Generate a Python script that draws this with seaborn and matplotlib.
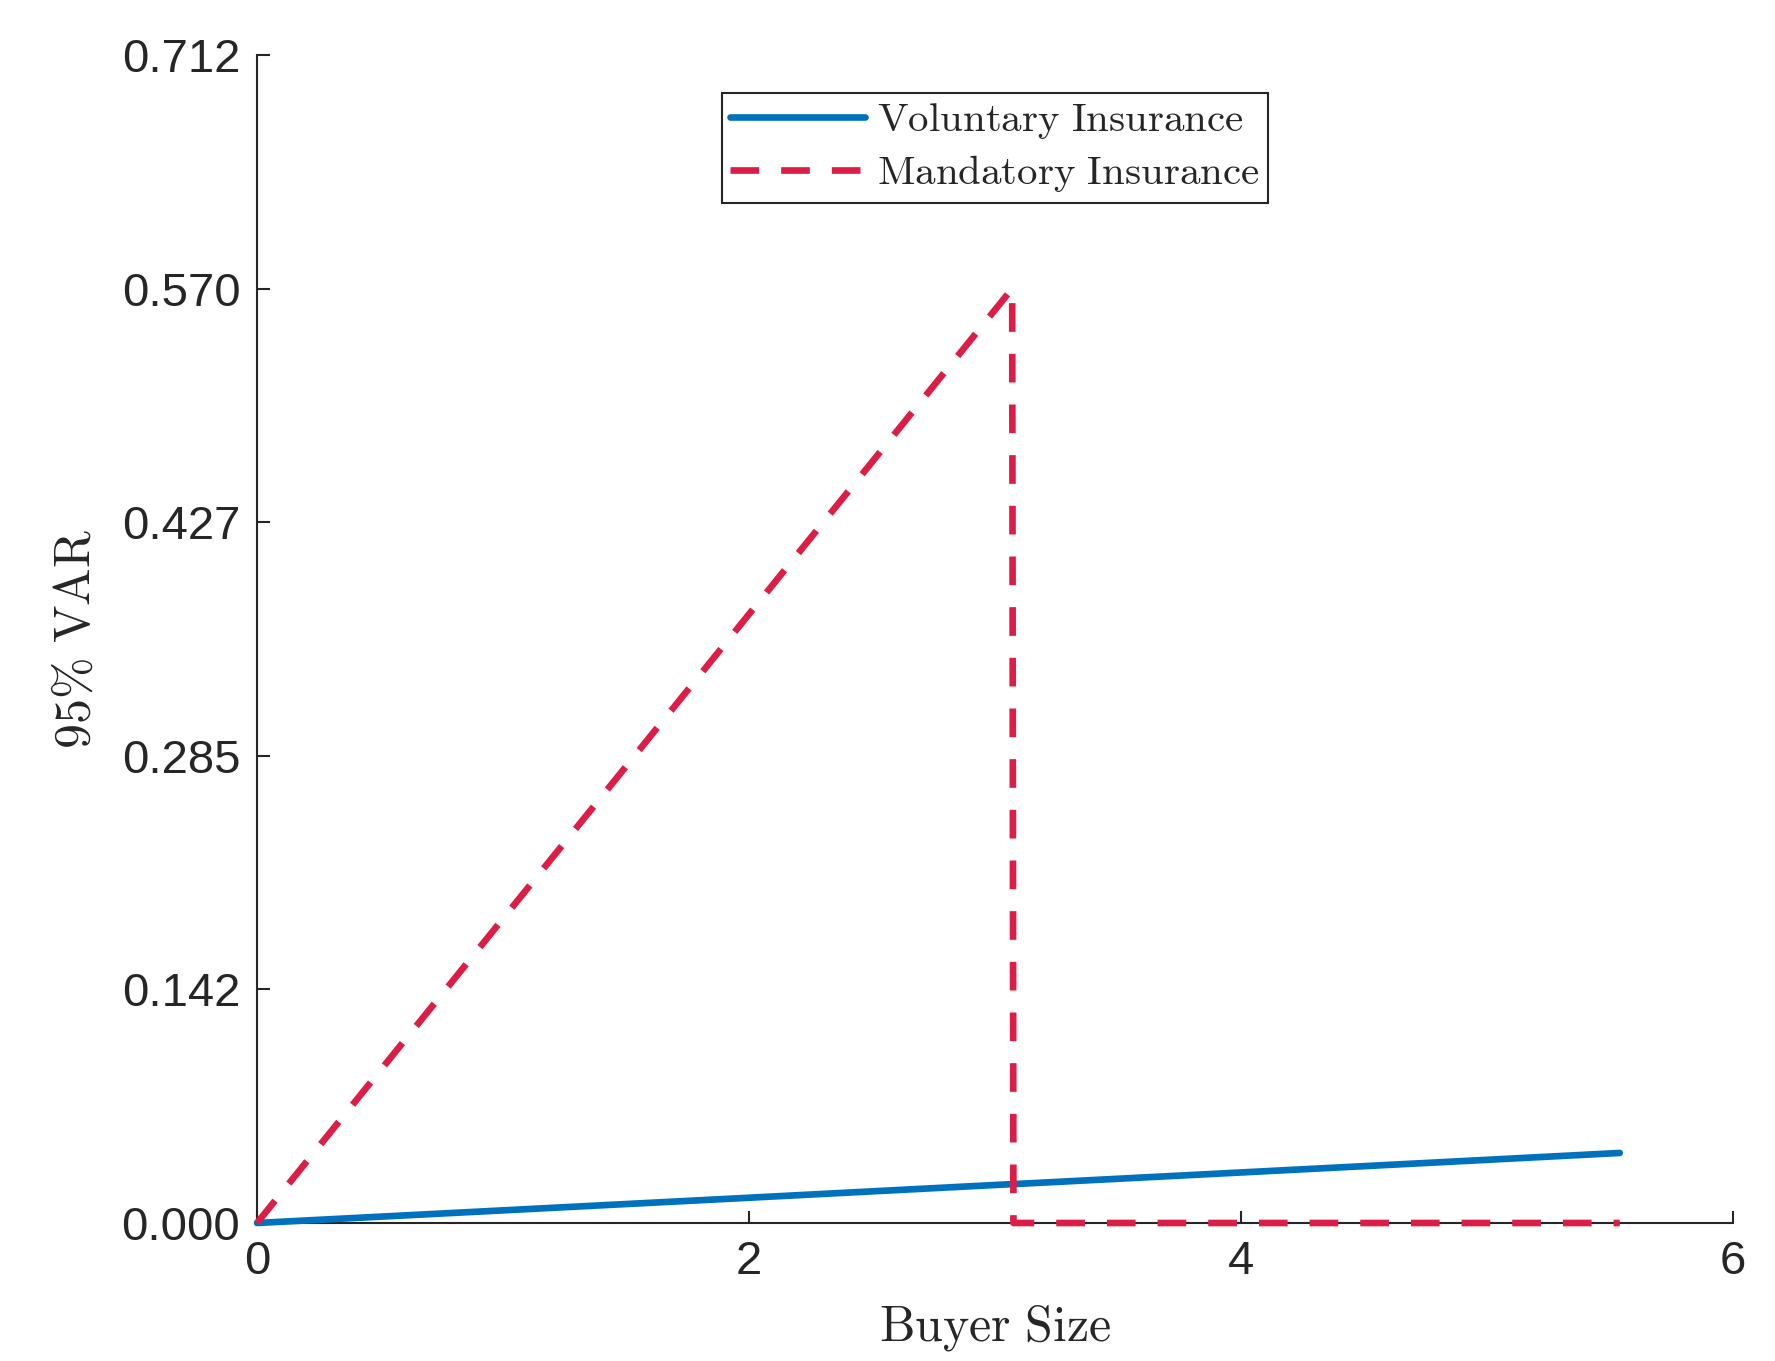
import numpy as np
import pandas as pd
import matplotlib
matplotlib.use("Agg")
import matplotlib.pyplot as plt
import seaborn as sns
from matplotlib.lines import Line2D

# ---- data ----
buyer_size = [0.0, 1.0, 2.0, 3.07, 3.075, 4.0, 5.0, 5.54]
voluntary = [0.0, 0.0077, 0.0154, 0.0237, 0.0237, 0.0308, 0.0385, 0.0427]
mandatory = [0.0, 0.1855, 0.3711, 0.5696, 0.0, 0.0, 0.0, 0.0]
series_names = ["Voluntary Insurance", "Mandatory Insurance"]
xticks = [0, 2, 4, 6]
ytick_labels = ["0.000", "0.142", "0.285", "0.427", "0.570", "0.712"]
y_max = 0.712

df = pd.concat([
    pd.DataFrame({"x": buyer_size, "y": voluntary, "series": series_names[0]}),
    pd.DataFrame({"x": buyer_size, "y": mandatory, "series": series_names[1]}),
], ignore_index=True)

sns.set_theme(style="ticks")
plt.rcParams["font.family"] = ["Liberation Sans", "DejaVu Sans"]
plt.rcParams["mathtext.fontset"] = "cm"

fig = plt.figure(figsize=(17.75, 13.61), dpi=100)
ax = fig.add_axes([0.1448, 0.1014, 0.9763 - 0.1448, 0.9596 - 0.1014])

lw = 4.8
dash = (4.3, 3.3)
sns.lineplot(data=df, x="x", y="y", hue="series", style="series",
             palette={series_names[0]: "#0072BD", series_names[1]: "#DC1E46"},
             dashes={series_names[0]: "", series_names[1]: dash},
             linewidth=lw, sort=False, estimator=None, ax=ax, legend=False)
for ln in ax.lines:
    ln.set_clip_on(False)
    ln.set_zorder(3)

ax.set_xlim(0, 6)
ax.set_ylim(0, y_max)
ax.set_xticks(xticks)
ax.set_xticklabels([str(t) for t in xticks])
yt = np.linspace(0, y_max, len(ytick_labels))
ax.set_yticks(yt)
ax.set_yticklabels(ytick_labels)

for s in ["top", "right"]:
    ax.spines[s].set_visible(False)
for s in ["left", "bottom"]:
    ax.spines[s].set_color("#262626")
    ax.spines[s].set_linewidth(1.5)
    ax.spines[s].set_zorder(2)
ax.tick_params(direction="in", length=9, width=1.5, color="#262626",
               labelsize=34, labelcolor="#262626", pad=12)

ax.set_xlabel(r"$\mathrm{Buyer\ Size}$", fontsize=36, color="#262626", labelpad=14)
ax.set_ylabel(r"$\mathrm{95\%\ VAR}$", fontsize=36, color="#262626", labelpad=16)

handles = [
    Line2D([], [], color="#0072BD", lw=lw),
    Line2D([], [], color="#DC1E46", lw=lw, dashes=dash),
]
leg = ax.legend(handles, [r"$\mathrm{Voluntary\ Insurance}$", r"$\mathrm{Mandatory\ Insurance}$"],
                loc="upper center", bbox_to_anchor=(0.5, 0.9675), borderaxespad=0,
                fontsize=29.5, frameon=True, fancybox=False, framealpha=1,
                edgecolor="#262626", handlelength=3.3, handletextpad=0.3,
                labelspacing=0.3, borderpad=0.2)
leg.get_frame().set_linewidth(1.5)

fig.savefig("out.png", dpi=100, facecolor="white")
